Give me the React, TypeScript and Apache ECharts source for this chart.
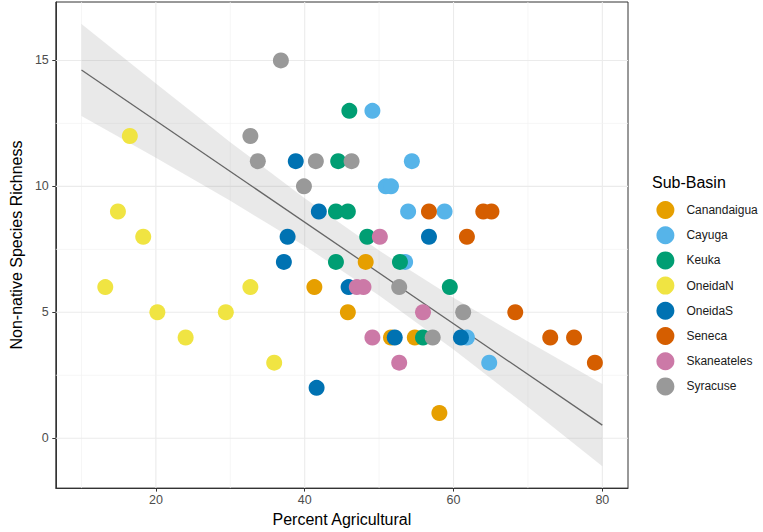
import React, { useEffect, useRef } from "react";
import * as echarts from "echarts";

const basins = ["Canandaigua", "Cayuga", "Keuka", "OneidaN", "OneidaS", "Seneca", "Skaneateles", "Syracuse"];
const basinColors = ["#E69F00", "#56B4E9", "#009E73", "#F0E442", "#0072B2", "#D55E00", "#CC79A7", "#999999"];

const canandaigua = [[48.2, 7], [41.3, 6], [45.8, 5], [51.6, 4], [54.8, 4], [58.1, 1]];
const cayuga = [[49.1, 13], [54.4, 11], [50.9, 10], [51.6, 10], [53.9, 9], [58.8, 9], [53.5, 7], [61.8, 4], [64.8, 3]];
const keuka = [[46.0, 13], [44.5, 11], [44.2, 9], [45.8, 9], [48.4, 8], [44.2, 7], [52.8, 7], [59.5, 6], [55.9, 4]];
const oneidaN = [[16.5, 12], [14.9, 9], [18.3, 8], [13.2, 6], [32.7, 6], [20.2, 5], [29.4, 5], [24.0, 4], [35.9, 3]];
const oneidaS = [[38.8, 11], [41.9, 9], [37.7, 8], [56.7, 8], [37.2, 7], [45.9, 6], [52.1, 4], [61.0, 4], [41.6, 2]];
const seneca = [[56.7, 9], [64.0, 9], [65.1, 9], [61.8, 8], [68.3, 5], [73.0, 4], [76.2, 4], [79.0, 3]];
const skaneateles = [[50.1, 8], [47.0, 6], [47.9, 6], [55.9, 5], [49.1, 4], [52.7, 3]];
const syracuse = [[36.8, 15], [32.7, 12], [33.7, 11], [41.5, 11], [46.3, 11], [39.9, 10], [52.7, 6], [61.3, 5], [57.2, 4]];
const basinPoints = [canandaigua, cayuga, keuka, oneidaN, oneidaS, seneca, skaneateles, syracuse];

const fitX = [10, 80];
const fitY = [14.62, 0.52];
const bandX = [10, 20, 30, 40, 50, 60, 70, 80];
const bandUpper = [16.45, 14.08, 11.75, 9.53, 7.45, 5.58, 3.84, 2.15];
const bandLower = [12.79, 11.14, 9.43, 7.63, 5.67, 3.52, 1.24, -1.11];

const xTicks = [20, 40, 60, 80];
const xMinor = [10, 30, 50, 70];
const yTicks = [0, 5, 10, 15];
const yMinor = [2.5, 7.5, 12.5];

const xMin = 6.55;
const xMax = 83.45;
const yMin = -1.98;
const yMax = 17.32;

const FONT = "'Liberation Sans', Arial, sans-serif";

export default function App() {
  const ref = useRef<HTMLDivElement>(null);

  useEffect(() => {
    if (!ref.current) return;
    const chart = echarts.init(ref.current, null, { renderer: "svg" });

    const gridData: number[][] = [
      ...xTicks.map((v) => [0, v, 1]),
      ...xMinor.map((v) => [0, v, 0]),
      ...yTicks.map((v) => [1, v, 1]),
      ...yMinor.map((v) => [1, v, 0]),
    ];

    const option: any = {
      animation: false,
      backgroundColor: "#ffffff",
      textStyle: { fontFamily: FONT },
      title: {
        text: "Sub-Basin",
        left: 652,
        top: 174,
        padding: 0,
        textStyle: { fontSize: 16, fontWeight: "normal", color: "#000", fontFamily: FONT },
      },
      legend: {
        orient: "vertical",
        left: 656.4,
        top: 201,
        padding: 0,
        itemWidth: 32,
        itemHeight: 18,
        itemGap: 7.2,
        icon: "circle",
        selectedMode: false,
        data: basins,
        textStyle: { fontSize: 12, color: "#1a1a1a", fontFamily: FONT },
      },
      grid: {
        left: 41,
        right: 135,
        top: 2,
        bottom: 40,
        show: true,
        borderColor: "#333333",
        borderWidth: 1,
        backgroundColor: "#ffffff",
        containLabel: false,
      },
      xAxis: {
        type: "value",
        min: xMin,
        max: xMax,
        name: "Percent Agricultural",
        nameLocation: "middle",
        nameGap: 17,
        nameTextStyle: { fontSize: 16, color: "#000", fontFamily: FONT },
        splitLine: { show: false },
        axisLine: { show: true, onZero: false, lineStyle: { color: "#333333", width: 1 } },
        axisTick: { show: true, customValues: xTicks, length: 3.5, lineStyle: { color: "#333333", width: 1 } },
        axisLabel: { customValues: xTicks, color: "#4D4D4D", fontSize: 12.5, margin: 5, fontFamily: FONT },
      },
      yAxis: {
        type: "value",
        min: yMin,
        max: yMax,
        name: "Non-native Species Richness",
        nameLocation: "middle",
        nameRotate: 90,
        nameGap: 16,
        nameTextStyle: { fontSize: 16, color: "#000", fontFamily: FONT },
        splitLine: { show: false },
        axisLine: { show: true, onZero: false, lineStyle: { color: "#333333", width: 1 } },
        axisTick: { show: true, customValues: yTicks, length: 3.5, lineStyle: { color: "#333333", width: 1 } },
        axisLabel: { customValues: yTicks, color: "#4D4D4D", fontSize: 12.5, margin: 7, fontFamily: FONT },
      },
      series: [
        {
          type: "custom",
          name: "grid",
          z: 1,
          silent: true,
          data: gridData,
          renderItem: (params: any, api: any) => {
            const kind = api.value(0);
            const v = api.value(1);
            const major = api.value(2);
            let p1, p2;
            if (kind === 0) {
              p1 = api.coord([v, yMin]);
              p2 = api.coord([v, yMax]);
            } else {
              p1 = api.coord([xMin, v]);
              p2 = api.coord([xMax, v]);
            }
            return {
              type: "line",
              shape: { x1: p1[0], y1: p1[1], x2: p2[0], y2: p2[1] },
              style: { stroke: major ? "#EBEBEB" : "#F2F2F2", lineWidth: major ? 1.1 : 0.7 },
            };
          },
        },
        {
          type: "custom",
          name: "band",
          z: 2,
          silent: true,
          data: bandX.map((x, i) => [x, bandLower[i], bandUpper[i]]),
          encode: { x: 0, y: [1, 2] },
          renderItem: (params: any, api: any) => {
            if (params.dataIndex !== 0) return null;
            const pts: number[][] = [];
            for (let i = 0; i < bandX.length; i++) pts.push(api.coord([bandX[i], bandUpper[i]]));
            for (let i = bandX.length - 1; i >= 0; i--) pts.push(api.coord([bandX[i], bandLower[i]]));
            return {
              type: "polygon",
              shape: { points: pts },
              style: { fill: "rgba(153,153,153,0.22)" },
            };
          },
        },
        {
          type: "line",
          name: "fit",
          z: 3,
          silent: true,
          symbol: "none",
          data: fitX.map((x, i) => [x, fitY[i]]),
          lineStyle: { color: "#666666", width: 1.3 },
        },
        ...basins.map((b, i) => ({
          type: "scatter",
          name: b,
          z: 4,
          symbol: "circle",
          symbolSize: 16,
          data: basinPoints[i],
          itemStyle: { color: basinColors[i], opacity: 1 },
          emphasis: { disabled: true },
        })),
      ],
    };

    chart.setOption(option);
    return () => chart.dispose();
  }, []);

  return (
    <div
      ref={ref}
      style={{ position: "absolute", left: 0, top: 0, width: 763, height: 532 }}
    />
  );
}
